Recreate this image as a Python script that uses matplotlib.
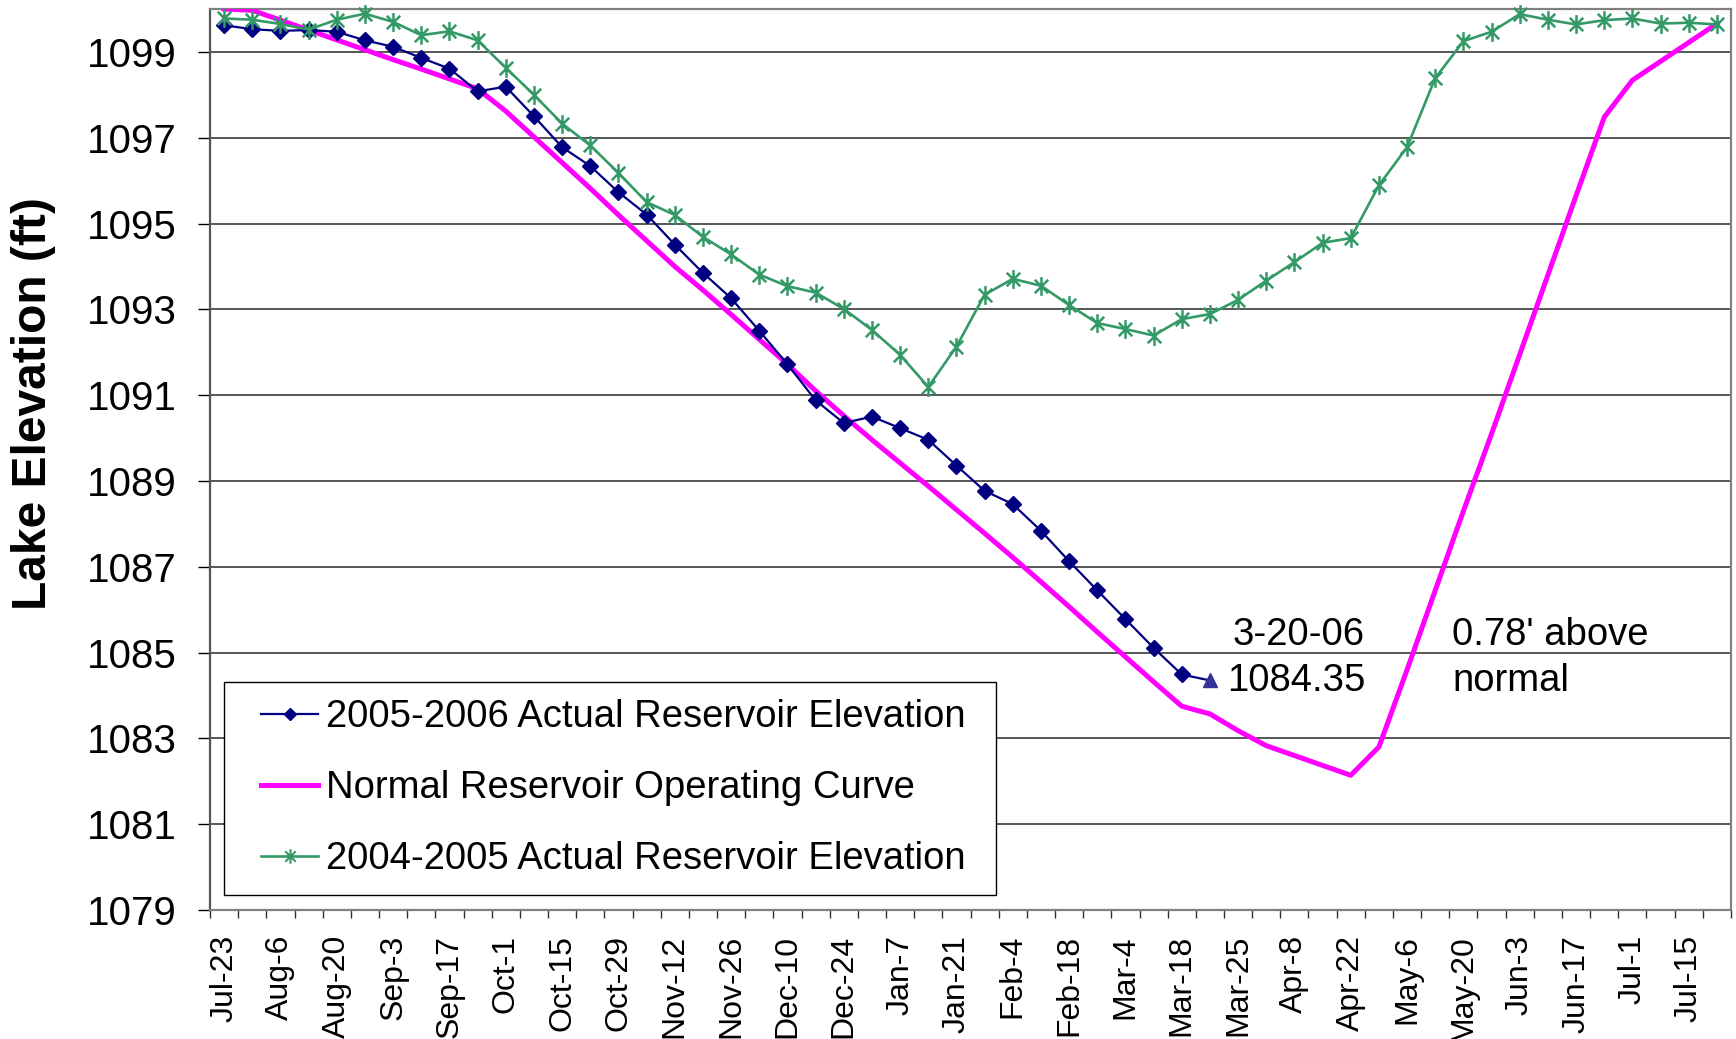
import matplotlib
matplotlib.use("Agg")
import matplotlib.pyplot as plt
from matplotlib.path import Path
from matplotlib.lines import Line2D
from matplotlib.legend_handler import HandlerLine2D

plt.rcParams['font.family'] = ['Liberation Sans', 'DejaVu Sans']

categories = ['Jul-23', 'Jul-30', 'Aug-6', 'Aug-13', 'Aug-20', 'Aug-27', 'Sep-3', 'Sep-10',
              'Sep-17', 'Sep-24', 'Oct-1', 'Oct-8', 'Oct-15', 'Oct-22', 'Oct-29', 'Nov-5',
              'Nov-12', 'Nov-19', 'Nov-26', 'Dec-3', 'Dec-10', 'Dec-17', 'Dec-24', 'Dec-31',
              'Jan-7', 'Jan-14', 'Jan-21', 'Jan-28', 'Feb-4', 'Feb-11', 'Feb-18', 'Feb-25',
              'Mar-4', 'Mar-11', 'Mar-18', 'Mar-20', 'Mar-25', 'Apr-1', 'Apr-8', 'Apr-15',
              'Apr-22', 'Apr-29', 'May-6', 'May-13', 'May-20', 'May-27', 'Jun-3', 'Jun-10',
              'Jun-17', 'Jun-24', 'Jul-1', 'Jul-8', 'Jul-15', 'Jul-22']

actual_2005_2006 = [1099.62, 1099.53, 1099.49, 1099.51, 1099.47, 1099.27, 1099.12, 1098.86,
                    1098.61, 1098.08, 1098.19, 1097.50, 1096.78, 1096.34, 1095.73, 1095.21,
                    1094.51, 1093.85, 1093.26, 1092.50, 1091.72, 1090.88, 1090.35, 1090.50,
                    1090.23, 1089.96, 1089.36, 1088.77, 1088.46, 1087.84, 1087.13, 1086.45,
                    1085.78, 1085.11, 1084.49, 1084.35]

normal_curve = [1100.00, 1099.97, 1099.74, 1099.51, 1099.28, 1099.05, 1098.82, 1098.60,
                1098.37, 1098.14, 1097.62, 1097.02, 1096.42, 1095.82, 1095.20, 1094.60,
                1094.00, 1093.45, 1092.88, 1092.30, 1091.72, 1091.10, 1090.52, 1089.96,
                1089.42, 1088.88, 1088.33, 1087.78, 1087.22, 1086.65, 1086.07, 1085.48,
                1084.90, 1084.32, 1083.75, 1083.57, 1083.18, 1082.83, 1082.60, 1082.37,
                1082.14, 1082.80, 1084.60, 1086.45, 1088.30, 1090.10, 1091.95, 1093.80,
                1095.65, 1097.48, 1098.34, 1098.78, 1099.22, 1099.66]

actual_2004_2005 = [1099.78, 1099.75, 1099.65, 1099.52, 1099.75, 1099.89, 1099.70, 1099.39,
                    1099.48, 1099.27, 1098.63, 1098.00, 1097.33, 1096.82, 1096.18, 1095.50,
                    1095.20, 1094.69, 1094.28, 1093.81, 1093.54, 1093.39, 1093.01, 1092.52,
                    1091.94, 1091.19, 1092.13, 1093.34, 1093.71, 1093.55, 1093.10, 1092.68,
                    1092.54, 1092.39, 1092.77, 1092.89, 1093.22, 1093.67, 1094.10, 1094.55,
                    1094.66, 1095.89, 1096.78, 1098.39, 1099.25, 1099.47, 1099.88, 1099.75,
                    1099.64, 1099.74, 1099.78, 1099.66, 1099.68, 1099.64]

y_ticks = [1079, 1081, 1083, 1085, 1087, 1089, 1091, 1093, 1095, 1097, 1099]

label_2005 = '2005-2006 Actual Reservoir Elevation'
label_normal = 'Normal Reservoir Operating Curve'
label_2004 = '2004-2005 Actual Reservoir Elevation'

W, H = 1736, 1039
fig = plt.figure(figsize=(W / 100, H / 100), dpi=100)
ax = fig.add_axes([210 / W, 1 - 910 / H, (1731 - 210) / W, (910 - 9) / H])

x_all = list(range(len(categories)))
x_blue = list(range(len(actual_2005_2006)))

# asterisk marker like Excel's star
d = 0.72
star = Path([(0, -1), (0, 1), (-d, -d), (d, d), (-d, d), (d, -d)],
            [Path.MOVETO, Path.LINETO, Path.MOVETO, Path.LINETO, Path.MOVETO, Path.LINETO])

navy = '#000080'
magenta = '#FF00FF'
green = '#339966'

ax.plot(x_all, normal_curve, color=magenta, lw=3.6, zorder=3)
ax.plot(x_blue, actual_2005_2006, color=navy, lw=1.6, marker='D', markersize=8,
        markevery=list(range(len(actual_2005_2006) - 1)), zorder=4, clip_on=False)
ax.plot(x_blue[-1], actual_2005_2006[-1], linestyle='none', marker='^', markersize=10,
        color='#333399', zorder=5)
ax.plot(x_all, actual_2004_2005, color=green, lw=1.9, marker=star, markersize=13.5,
        markeredgewidth=1.8, markeredgecolor=green, zorder=5, clip_on=False)

ax.set_xlim(-0.5, len(categories) - 0.5)
ax.set_ylim(1079, 1100)

ax.set_yticks(y_ticks)
ax.set_yticklabels([str(v) for v in y_ticks], fontsize=29)
ax.yaxis.grid(True, color='#3a3a3a', lw=1.2)
ax.set_axisbelow(True)
ax.tick_params(axis='y', direction='out', length=9, width=1.0, pad=15, colors='black')

major_x = x_all[::2]
ax.set_xticks(major_x)
ax.set_xticklabels(categories[::2], rotation=90, fontsize=23)
ax.set_xticks([i - 0.5 for i in range(len(categories) + 1)], minor=True)
ax.tick_params(axis='x', which='major', length=0, pad=18)
ax.tick_params(axis='x', which='minor', direction='out', length=6, width=1.0, color='#333333')

for s in ['top', 'right', 'bottom']:
    ax.spines[s].set_color('#808080')
    ax.spines[s].set_linewidth(1.6)
ax.spines['left'].set_color('#555555')
ax.spines['left'].set_linewidth(1.6)

ax.set_ylabel('Lake Elevation (ft)', fontsize=34.5, fontweight='bold')
ax.yaxis.set_label_coords(-0.101, 0.562)

handles = [
    Line2D([], [], color=navy, lw=1.6, marker='D', markersize=6),
    Line2D([], [], color=magenta, lw=3.6),
    Line2D([], [], color=green, lw=1.9, marker=star, markersize=10.5, markeredgewidth=1.5),
]
hmap = {h: HandlerLine2D(xpad=0.52) for h in handles}
leg = ax.legend(handles, [label_2005, label_normal, label_2004], loc='lower left',
                bbox_to_anchor=(224 / W, 1 - 895 / H, (996 - 224) / W, 0.2),
                bbox_transform=fig.transFigure, mode='expand',
                borderaxespad=0, fontsize=27.5, frameon=True, fancybox=False,
                edgecolor='black', framealpha=1, borderpad=0.46, labelspacing=0.92,
                handlelength=2.0, handletextpad=0.22, handler_map=hmap)
leg.get_frame().set_linewidth(1.0)
leg.set_zorder(10)

fig.text(1365 / W, 1 - 635 / H, '3-20-06', fontsize=27.5, ha='right', va='center')
fig.text(1365 / W, 1 - 681 / H, '1084.35', fontsize=27.5, ha='right', va='center')
fig.text(1452 / W, 1 - 635 / H, "0.78' above", fontsize=27.5, ha='left', va='center')
fig.text(1452 / W, 1 - 681 / H, 'normal', fontsize=27.5, ha='left', va='center')

fig.savefig('out.png', dpi=100)
